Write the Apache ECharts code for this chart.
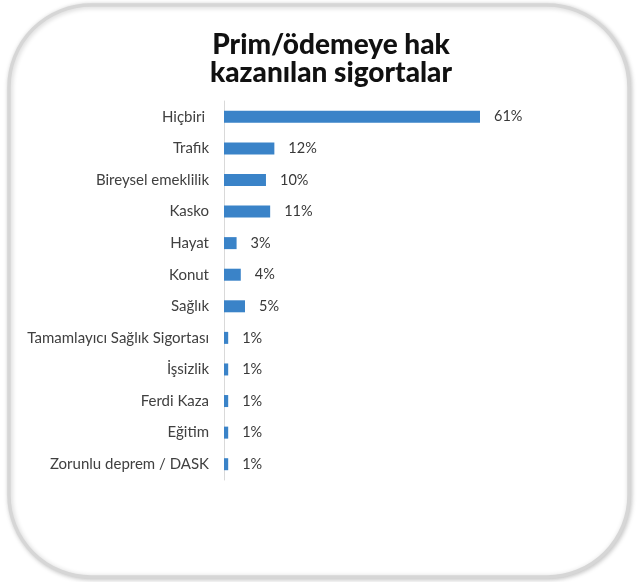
<!DOCTYPE html>
<html>
<head>
<meta charset="utf-8">
<script src="https://cdn.jsdelivr.net/npm/echarts@6/dist/echarts.min.js"></script>
<style>
  html, body { margin: 0; padding: 0; background: #ffffff; }
  #chart { width: 638px; height: 582px; }
</style>
</head>
<body>
<div id="chart"></div>
<script>
// Sigorta türleri (üstten alta) ve yüzde değerleri
const categories = [
  'Hiçbiri ', 'Trafik', 'Bireysel emeklilik', 'Kasko', 'Hayat', 'Konut',
  'Sağlık', 'Tamamlayıcı Sağlık Sigortası', 'İşsizlik', 'Ferdi Kaza',
  'Eğitim', 'Zorunlu deprem / DASK'
];
const values = [61, 12, 10, 11, 3, 4, 5, 1, 1, 1, 1, 1];
const titleLines = ['Prim/ödemeye hak', 'kazanılan sigortalar'];

const chart = echarts.init(document.getElementById('chart'), null, { renderer: 'canvas' });

chart.setOption({
  animation: false,
  backgroundColor: '#ffffff',
  title: {
    text: titleLines.join('\n'),
    left: 326,
    textAlign: 'center',
    top: 26,
    textStyle: {
      fontFamily: 'Lato',
      fontWeight: 900,
      fontSize: 28,
      lineHeight: 28,
      color: '#111111'
    }
  },
  graphic: [{
    type: 'rect',
    z: -10,
    silent: true,
    shape: { x: 9, y: 5, width: 620, height: 572, r: 82 },
    style: {
      fill: '#ffffff',
      stroke: '#d6d6d6',
      lineWidth: 3.5,
      shadowBlur: 5,
      shadowColor: 'rgba(0,0,0,0.2)',
      shadowOffsetX: 1,
      shadowOffsetY: 1
    }
  }],
  grid: { left: 224, top: 101, width: 256, height: 379, containLabel: false },
  xAxis: {
    type: 'value',
    min: 0,
    max: 61,
    show: false
  },
  yAxis: {
    type: 'category',
    inverse: true,
    data: categories,
    axisLine: { show: true, lineStyle: { color: '#d9d9d9', width: 1 } },
    axisTick: { show: false },
    axisLabel: {
      margin: 15,
      fontFamily: 'Lato',
      fontSize: 15,
      color: '#404040'
    }
  },
  series: [{
    type: 'bar',
    data: values,
    barWidth: 12,
    itemStyle: { color: '#3a83c8' },
    label: {
      show: true,
      position: 'right',
      distance: 14,
      formatter: '{c}%',
      fontFamily: 'Lato',
      fontSize: 14.5,
      color: '#383838'
    }
  }]
});
</script>
</body>
</html>
